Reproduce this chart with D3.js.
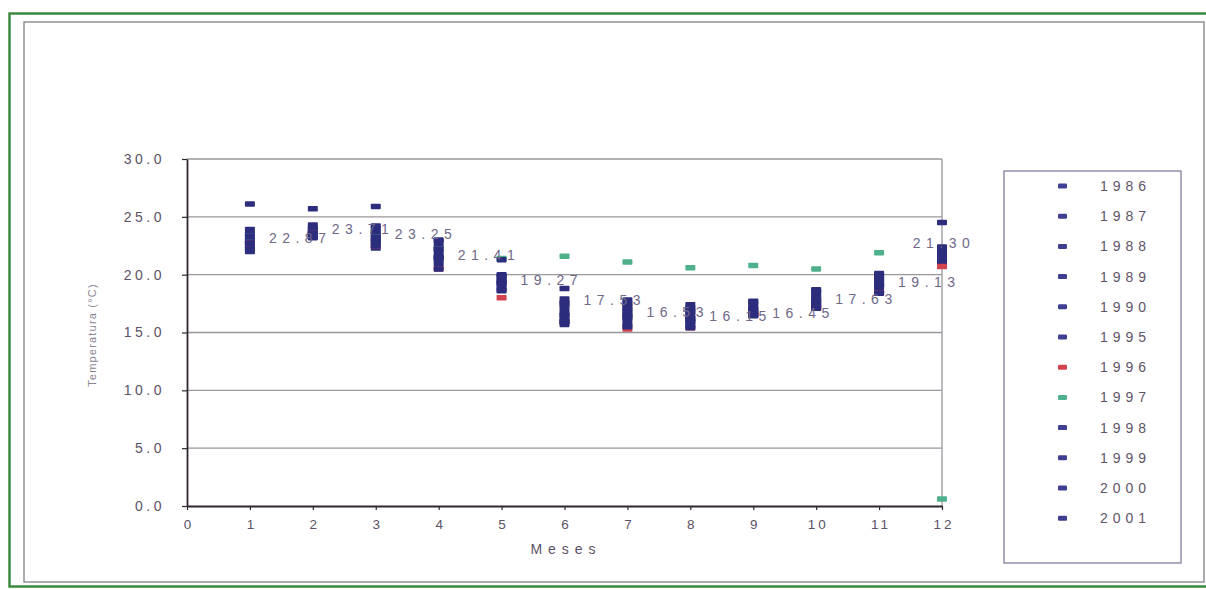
<!DOCTYPE html>
<html>
<head>
<meta charset="utf-8">
<script src="https://cdn.jsdelivr.net/npm/d3@7/dist/d3.min.js"></script>
<style>
  html, body { margin: 0; padding: 0; background: #ffffff; }
  svg { display: block; }
  text { font-family: "Liberation Sans", Arial, sans-serif; }
</style>
</head>
<body>
<svg id="chart" width="1206" height="589"></svg>
<script>
// Meses del año (eje X)
const meses = [1, 2, 3, 4, 5, 6, 7, 8, 9, 10, 11, 12];
const ticksX = [0, 1, 2, 3, 4, 5, 6, 7, 8, 9, 10, 11, 12];
const ticksY = [0, 5, 10, 15, 20, 25, 30];

// Años de la serie
const anios = ["1986", "1987", "1988", "1989", "1990", "1995", "1996", "1997", "1998", "1999", "2000", "2001"];

// Temperatura media mensual (°C) por año
const t1986 = [22.0, 23.3, 23.5, 22.9, 19.8, 18.8, 17.8, 17.4, 17.7, 18.7, 20.1, 22.4];
const t1987 = [23.9, 24.3, 24.0, 22.5, 19.5, 17.9, 17.5, 17.1, 17.4, 18.4, 19.8, 22.1];
const t1988 = [22.6, 23.6, 22.3, 22.1, 18.6, 17.5, 16.9, 16.8, 17.1, 18.1, 19.5, 21.8];
const t1989 = [22.9, 23.9, 23.1, 21.7, 20.0, 17.1, 16.5, 16.5, 16.8, 17.8, 19.2, 21.5];
const t1990 = [22.3, 23.2, 22.8, 21.3, 19.2, 16.7, 16.1, 16.2, 16.5, 17.5, 18.9, 21.2];
const t1995 = [23.5, 24.0, 24.2, 20.9, 18.9, 16.3, 15.7, 15.9, 17.0, 17.2, 18.5, 21.0];
const t1996 = [22.7, 23.6, 22.5, 20.5, 18.0, 15.9, 15.3, 15.4, 16.6, 17.1, 18.4, 20.7];
const t1997 = [23.3, 23.5, 23.7, 22.2, 21.4, 21.6, 21.1, 20.6, 20.8, 20.5, 21.9, 0.6];
const t1998 = [26.1, 25.7, 25.9, 23.0, 21.3, 15.7, 17.3, 16.9, 17.6, 18.6, 20.0, 24.5];
const t1999 = [22.2, 23.6, 22.5, 20.5, 19.4, 16.0, 15.5, 15.4, 16.5, 17.1, 18.4, 21.6];
const t2000 = [23.3, 23.5, 23.7, 21.5, 18.7, 15.9, 16.3, 16.0, 16.9, 17.9, 19.0, 21.9];
const t2001 = [22.7, 23.3, 22.9, 22.2, 19.9, 16.5, 17.0, 15.6, 16.6, 17.4, 19.6, 22.2];

// Promedio mensual (rotulado en el gráfico)
const promedio = [22.87, 23.71, 23.25, 21.41, 19.27, 17.53, 16.53, 16.15, 16.45, 17.63, 19.13, 21.30];

const series = [t1986, t1987, t1988, t1989, t1990, t1995, t1996, t1997, t1998, t1999, t2000, t2001];

const NAVY = "#2c2d7c";
const colores = {
  "1996": "#d2434f",
  "1997": "#4fb08c"
};
const colorAnio = a => colores[a] || NAVY;

const svg = d3.select("#chart");

// Marcos exteriores
svg.append("rect")
  .attr("x", 9.5).attr("y", 13.5).attr("width", 1215).attr("height", 573)
  .attr("fill", "none").attr("stroke", "#3d8a3f").attr("stroke-width", 2.5);
svg.append("rect")
  .attr("x", 24).attr("y", 22).attr("width", 1180).attr("height", 560)
  .attr("fill", "#ffffff").attr("stroke", "#8c8890").attr("stroke-width", 1.4);

// Escalas
const x = d3.scaleLinear().domain([0, 12]).range([187, 942]);
const y = d3.scaleLinear().domain([0, 30]).range([506, 159]);

// Líneas de división horizontales
svg.append("g")
  .selectAll("line")
  .data(ticksY.filter(d => d > 0))
  .join("line")
  .attr("x1", x(0)).attr("x2", x(12))
  .attr("y1", d => y(d)).attr("y2", d => y(d))
  .attr("stroke", "#9a969c").attr("stroke-width", 1.4);

// Borde derecho del área de trazado
svg.append("line")
  .attr("x1", x(12)).attr("x2", x(12))
  .attr("y1", y(30)).attr("y2", y(0))
  .attr("stroke", "#a29fa6").attr("stroke-width", 1.4);

// Eje Y
const ejeY = svg.append("g")
  .attr("transform", `translate(${x(0)},0)`)
  .call(d3.axisLeft(y).tickValues(ticksY).tickFormat(d3.format(".1f"))
    .tickSize(5).tickSizeOuter(0).tickPadding(17));
ejeY.select(".domain").attr("stroke", "#2f2630").attr("stroke-width", 1.8);
ejeY.selectAll(".tick line").attr("stroke", "#2f2630").attr("stroke-width", 1.2);
ejeY.selectAll(".tick text")
  .attr("fill", "#5c5266").style("font-size", "14px").style("letter-spacing", "3.5px");

// Eje X
const ejeX = svg.append("g")
  .attr("transform", `translate(0,${y(0)})`)
  .call(d3.axisBottom(x).tickValues(ticksX).tickFormat(d3.format("d"))
    .tickSize(4).tickSizeOuter(0).tickPadding(9));
ejeX.select(".domain").attr("stroke", "#2f2630").attr("stroke-width", 1.8);
ejeX.selectAll(".tick line").attr("stroke", "#2f2630").attr("stroke-width", 1.2);
ejeX.selectAll(".tick text")
  .attr("fill", "#5c5266").style("font-size", "13.5px").style("letter-spacing", "3px")
  .attr("dx", "1.5px");

// Títulos de ejes
svg.append("text")
  .attr("x", 566).attr("y", 554)
  .attr("text-anchor", "middle")
  .attr("fill", "#5c5266")
  .style("font-size", "14px").style("letter-spacing", "6px")
  .text("Meses");

svg.append("text")
  .attr("transform", "translate(96,335) rotate(-90)")
  .attr("text-anchor", "middle")
  .attr("fill", "#8a8592")
  .style("font-size", "11px").style("letter-spacing", "1.2px")
  .text("Temperatura (°C)");

// Marcador tipo guion
const MW = 10, MH = 5.5;
const capa = svg.append("g");

// Promedio mensual (debajo de las series)
capa.append("g")
  .selectAll("rect")
  .data(meses.map((m, i) => ({ m, v: promedio[i] })))
  .join("rect")
  .attr("x", d => x(d.m) - MW / 2)
  .attr("y", d => y(d.v) - MH / 2)
  .attr("width", MW).attr("height", MH).attr("rx", 0.8)
  .attr("fill", NAVY);

// Series anuales
series.forEach((vals, k) => {
  capa.append("g")
    .selectAll("rect")
    .data(meses.map((m, i) => ({ m, v: vals[i] })))
    .join("rect")
    .attr("x", d => x(d.m) - MW / 2)
    .attr("y", d => y(d.v) - MH / 2)
    .attr("width", MW).attr("height", MH).attr("rx", 0.8)
    .attr("fill", colorAnio(anios[k]));
});

// Rótulos del promedio
svg.append("g")
  .selectAll("text")
  .data(meses.map((m, i) => ({ m, v: promedio[i] })))
  .join("text")
  .attr("x", d => d.m === 12 ? x(d.m) + 2 : x(d.m) + 19)
  .attr("y", d => d.m === 12 ? y(d.v) - 12 : y(d.v) + 2)
  .attr("text-anchor", d => d.m === 12 ? "middle" : "start")
  .attr("fill", "#6f6888")
  .style("font-size", "14px").style("letter-spacing", "5.5px")
  .text(d => d3.format(".2f")(d.v));

// Leyenda
svg.append("rect")
  .attr("x", 1004).attr("y", 171).attr("width", 177).attr("height", 392)
  .attr("fill", "#ffffff").attr("stroke", "#8d86a0").attr("stroke-width", 1.4);

const ley = svg.append("g")
  .selectAll("g")
  .data(anios)
  .join("g")
  .attr("transform", (d, i) => `translate(0,${186 + i * 30.2})`);
ley.append("rect")
  .attr("x", 1058).attr("y", -2.5).attr("width", 9).attr("height", 5).attr("rx", 1.2)
  .attr("fill", d => colores[d] || "#3f3f92");
ley.append("text")
  .attr("x", 1100).attr("y", 5)
  .attr("fill", "#5e5468")
  .style("font-size", "14px").style("letter-spacing", "5px")
  .text(d => d);
</script>
</body>
</html>
